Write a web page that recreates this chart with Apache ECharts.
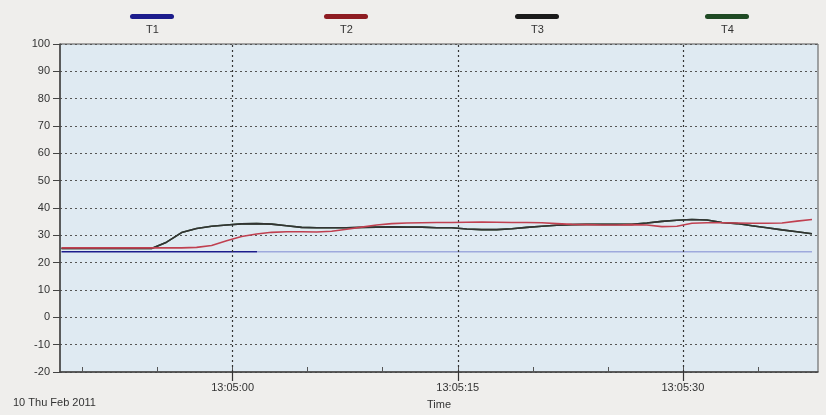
<!DOCTYPE html>
<html>
<head>
<meta charset="utf-8">
<script src="https://cdn.jsdelivr.net/npm/echarts@6/dist/echarts.min.js"></script>
<style>
html,body{margin:0;padding:0;background:#efeeec;}
#c{width:826px;height:415px;}
</style>
</head>
<body>
<div id="c"></div>
<script>
// seconds relative to 13:05:00
const times = [-11.4,-10.4,-9.4,-8.4,-7.4,-6.4,-5.4,-4.4,-3.4,-2.4,-1.4,-0.4,0.6,1.6,2.6,3.6,4.6,5.6,6.6,7.6,8.6,9.6,10.6,11.6,12.6,13.6,14.6,15.6,16.6,17.6,18.6,19.6,20.6,21.6,22.6,23.6,24.6,25.6,26.6,27.6,28.6,29.6,30.6,31.6,32.6,33.6,34.6,35.6,36.6,37.6,38.6];
const seriesNames = ['T1','T2','T3','T4'];
const T1 = [24,24,24,24,24,24,24,24,24,24,24,24,24,24,24,24,24,24,24,24,24,24,24,24,24,24,24,24,24,24,24,24,24,24,24,24,24,24,24,24,24,24,24,24,24,24,24,24,24,24,24];
const T2 = [25.4,25.4,25.4,25.4,25.4,25.4,25.4,25.4,25.4,25.6,26.3,28.0,29.6,30.5,31.1,31.3,31.3,31.2,31.5,32.2,33.0,33.8,34.3,34.5,34.6,34.7,34.7,34.8,34.9,34.8,34.7,34.7,34.6,34.3,34.0,33.9,33.8,33.8,33.9,33.8,33.2,33.3,34.4,34.6,34.6,34.5,34.4,34.4,34.5,35.2,35.8];
const T3 = [25.2,25.2,25.2,25.2,25.2,25.2,25.2,27.5,31.0,32.5,33.3,33.8,34.2,34.3,34.1,33.5,32.9,32.8,32.8,32.8,32.9,33.0,33.1,33.0,33.0,32.8,32.8,32.3,32.1,32.1,32.4,32.9,33.3,33.7,33.9,34.0,34.0,34.0,34.0,34.5,35.1,35.5,35.8,35.6,34.7,34.3,33.5,32.8,32.0,31.3,30.6];
const T4 = [25.2,25.2,25.2,25.2,25.2,25.2,25.2,27.5,31.0,32.5,33.3,33.8,34.2,34.3,34.1,33.5,32.9,32.8,32.8,32.8,32.9,33.0,33.1,33.0,33.0,32.8,32.8,32.3,32.1,32.1,32.4,32.9,33.3,33.7,33.9,34.0,34.0,34.0,34.0,34.5,35.1,35.5,35.8,35.6,34.7,34.3,33.5,32.8,32.0,31.3,30.6];
const majorTicks = [0, 15, 30];
const minorTicks = [-10,-5,0,5,10,15,20,25,30,35];
const dateText = '10 Thu Feb 2011';
const xName = 'Time';

const values = [T1, T2, T3, T4];
const legendColors = ['#1c1c8c', '#8e1c22', '#1a1a1a', '#1f4a24'];
const lineColors = ['#1c1c8c', '#c04050', '#333333', '#2f5a34'];
const FONT = 'Liberation Sans';

function fmt(t) {
  const s = 13*3600 + 5*60 + t;
  const h = Math.floor(s/3600), m = Math.floor((s%3600)/60), sec = Math.round(s%60);
  const p = n => (n<10?'0':'')+n;
  return p(h)+':'+p(m)+':'+p(sec);
}

const chart = echarts.init(document.getElementById('c'), null, {renderer:'canvas'});

const legendX = [152, 346, 537, 727];
const graphics = [];
seriesNames.forEach((n, i) => {
  graphics.push({type:'rect', left: legendX[i]-22, top: 14, shape:{width:44, height:5, r:2.5}, style:{fill: legendColors[i]}});
  graphics.push({type:'text', left: legendX[i]-6, top: 24, style:{text:n, fill:'#333', font:'11px "'+FONT+'"'}});
});

// T1 colour changes (dark -> faded) after 13:05:01.7
const t1Break = 1.7;
const off = (t1Break - times[0]) / (times[times.length-1] - times[0]);
const t1Color = new echarts.graphic.LinearGradient(0, 0, 1, 0, [
  {offset: 0, color: '#1c1c8c'}, {offset: off, color: '#1c1c8c'},
  {offset: off, color: '#9ea9dc'}, {offset: 1, color: '#9ea9dc'}
]);

const series = seriesNames.map((n, i) => ({
  name: n,
  type: 'line',
  xAxisIndex: 0,
  showSymbol: false,
  symbol: 'none',
  z: [2, 5, 4, 3][i],
  lineStyle: {width: 1.6, color: i === 0 ? t1Color : lineColors[i]},
  itemStyle: {color: lineColors[i]},
  data: times.map((t, k) => [t, values[i][k]])
}));
series[0].markLine = {
  silent: true, symbol: 'none', label: {show:false},
  lineStyle: {type: [2,3], color: '#333', width: 1.2},
  data: majorTicks.map(v => ({xAxis: v}))
};

chart.setOption({
  backgroundColor: '#efeeec',
  animation: false,
  title: {text: dateText, left: 8, bottom: 2, textStyle:{fontSize: 11, fontWeight:'normal', color:'#333', fontFamily: FONT}},
  graphic: graphics,
  grid: {left: 60, right: 8, top: 44, bottom: 43, show: true, backgroundColor: '#dfeaf2', borderColor: '#555', borderWidth: 1},
  xAxis: [{
    type: 'value', position: 'bottom', min: -11.5, max: 39,
    name: xName, nameLocation: 'middle', nameGap: 27,
    nameTextStyle: {fontSize: 11, color:'#333', fontFamily: FONT},
    axisLine: {show: true, onZero: false, lineStyle: {color:'#444', width: 1.5}},
    axisTick: {show: true, inside: false, length: 9, customValues: majorTicks, lineStyle:{color:'#333', width:1.2}},
    axisLabel: {show: true, margin: 10, customValues: majorTicks, formatter: fmt, fontSize: 11, color:'#333', fontFamily: FONT},
    splitLine: {show: false}
  }, {
    type: 'value', position: 'bottom', min: -11.5, max: 39,
    axisLine: {show: false, onZero: false},
    axisTick: {show: true, inside: true, length: 5, customValues: minorTicks, lineStyle:{color:'#555', width:1}},
    axisLabel: {show: false},
    splitLine: {show: false}
  }],
  yAxis: {
    type: 'value', min: -20, max: 100, interval: 10,
    axisLine: {show: true, onZero: false, lineStyle: {color:'#444', width: 1.5}},
    axisTick: {show: true, length: 7, lineStyle:{color:'#444'}},
    axisLabel: {margin: 10, fontSize: 11, color:'#333', fontFamily: FONT},
    splitLine: {show: true, lineStyle: {type: [2,3], color:'#555', width: 1}}
  },
  series: series
});
</script>
</body>
</html>
